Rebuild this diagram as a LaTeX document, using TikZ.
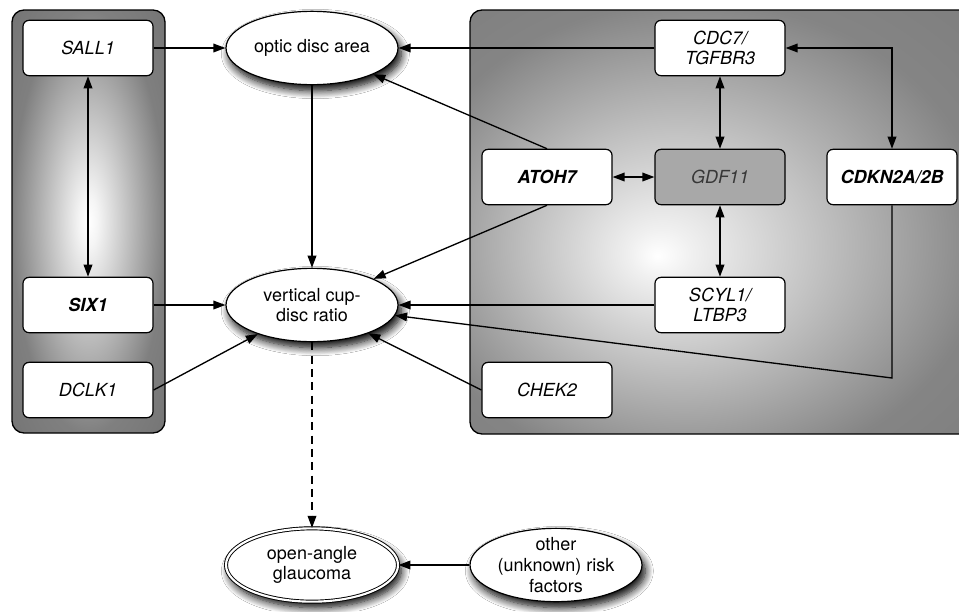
\documentclass[tikz,border=0pt]{standalone}
\usepackage{fontspec}
\setmainfont{TeX Gyre Heros}
\usetikzlibrary{arrows.meta,shapes.geometric,shadows,shadows.blur}
\pgfdeclareradialshading{panelshadeL}{\pgfpoint{0bp}{0bp}}{color(0bp)=(white); color(3bp)=(white!96!black); color(25bp)=(white!50!black); color(45bp)=(white!42!black)}
\pgfdeclareradialshading{panelshadeR}{\pgfpoint{-7bp}{-4bp}}{color(0bp)=(white); color(3bp)=(white!94!black); color(28bp)=(white!52!black); color(55bp)=(white!45!black)}
\newcommand\bodysize{\fontsize{13.5}{15.5}\selectfont}
\begin{document}
\begin{tikzpicture}[x=0.75pt,y=-0.75pt,
  gene/.style={draw, rounded corners=4.5pt, fill=white, minimum width=97.5pt, minimum height=41.5pt,
    align=center, font=\bodysize\itshape, line width=0.9pt, inner sep=2pt},
  genebold/.style={gene, font=\bodysize\bfseries\itshape},
  trait/.style={ellipse, draw, fill=white, minimum width=129pt, minimum height=55pt, inner sep=1pt,
    align=center, font=\bodysize, line width=0.9pt,
    blur shadow={shadow xshift=2.5pt, shadow yshift=-4.5pt, shadow blur radius=6pt, shadow blur steps=10, shadow opacity=100}},
  arr/.style={-{Triangle[length=9pt,width=6.5pt]}, line width=1pt},
  biarr/.style={{Triangle[length=9pt,width=6.5pt]}-{Triangle[length=9pt,width=6.5pt]}, line width=1pt},
  panel/.style={draw, line width=1pt, rounded corners=9pt}
]
\clip (0,0) rectangle (959,611);
\fill[white] (0,0) rectangle (959,611);

% panels
\path[panel, shading=panelshadeL] (12,10) rectangle (165,433);
\path[panel, shading=panelshadeR] (470,10) rectangle (990,434);

% gene boxes
\node[gene] (sall) at (88,48) {SALL1};
\node[genebold] (six) at (88,305) {SIX1};
\node[gene] (dclk) at (88,390) {DCLK1};
\node[gene] (cdc) at (720,48) {CDC7/\\TGFBR3};
\node[genebold] (atoh) at (547,177) {ATOH7};
\node[gene, fill={rgb,255:red,168;green,168;blue,168}, text={rgb,255:red,55;green,55;blue,55}] (gdf) at (720,177) {GDF11};
\node[genebold] (cdkn) at (892,177) {CDKN2A/2B};
\node[gene] (scyl) at (720,305) {SCYL1/\\LTBP3};
\node[gene] (chek) at (547,390) {CHEK2};

% traits
\node[trait] (optic) at (312,48) {optic disc area};
\node[trait] (vcd) at (312,305) {vertical cup-\\disc ratio};
\node[trait, double, line width=0.7pt, double distance=1.6pt] (oag) at (312,565) {open-angle\\glaucoma};
\node[trait, label={[align=center, font=\bodysize]center:other\\(unknown) risk\\factors}] (oth) at (556,565) {};

\coordinate (bend) at (892,378);

% connectors
\draw[arr] (sall.east) -- (optic);
\draw[biarr] (sall) -- (six);
\draw[arr] (optic) -- (vcd);
\draw[arr] (six) -- (vcd);
\draw[arr] (dclk.east) -- (vcd);
\draw[arr] (cdc) -- (optic);
\draw[arr] (atoh.north) -- (optic);
\draw[arr] (atoh.south) -- (vcd);
\draw[biarr] (atoh) -- (gdf);
\draw[biarr] (cdc) -- (gdf);
\draw[biarr] (gdf) -- (scyl);
\draw[biarr] (cdc.east) -| (cdkn.north);
\draw[arr] (scyl) -- (vcd);
\draw[arr] (cdkn.south) -- (bend) -- (vcd);
\draw[arr] (chek.west) -- (vcd);
\draw[arr, dash pattern=on 6pt off 4pt] (vcd) -- (oag);
\draw[arr] (oth) -- (oag);
\end{tikzpicture}
\end{document}
